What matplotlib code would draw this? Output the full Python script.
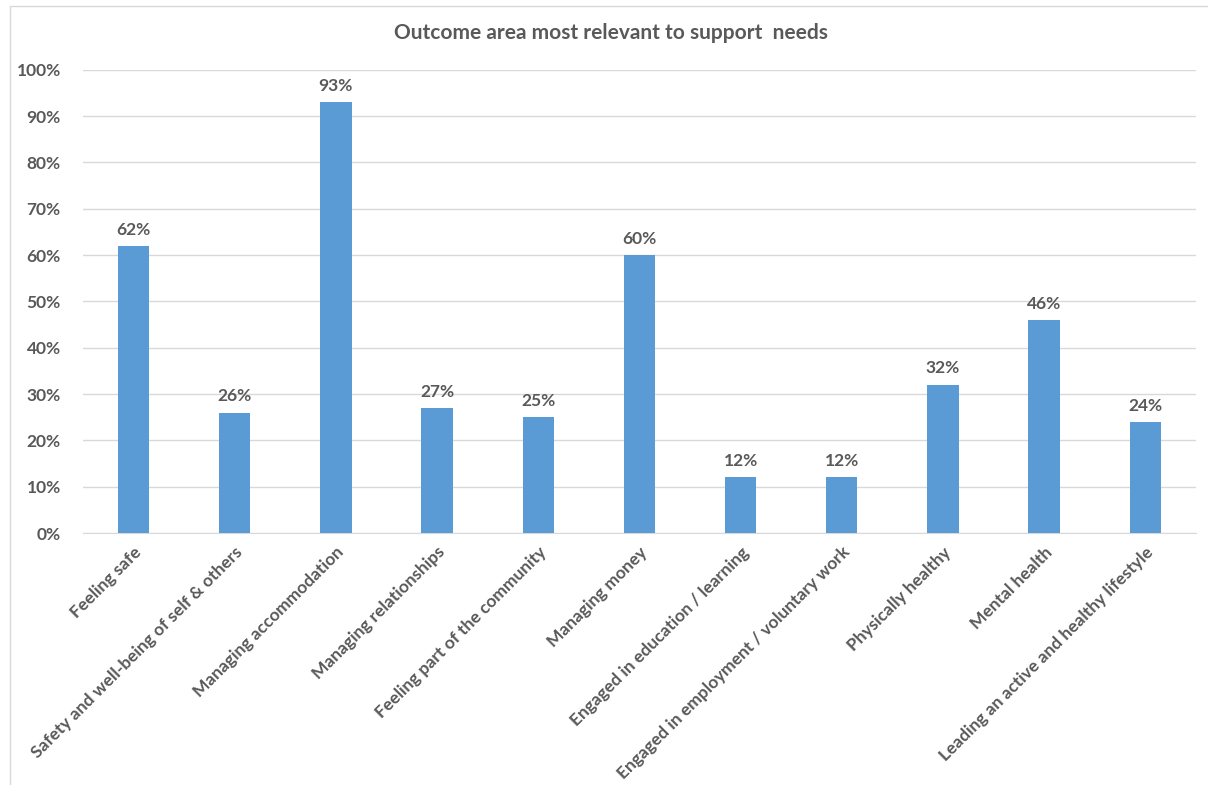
import matplotlib.pyplot as plt
import matplotlib.patches as patches
from matplotlib.ticker import FuncFormatter

categories = [
    "Feeling safe",
    "Safety and well-being of self & others",
    "Managing accommodation",
    "Managing relationships",
    "Feeling part of the community",
    "Managing money",
    "Engaged in education / learning",
    "Engaged in employment / voluntary work",
    "Physically healthy",
    "Mental health",
    "Leading an active and healthy lifestyle",
]
values = [62, 26, 93, 27, 25, 60, 12, 12, 32, 46, 24]
yticks = [0, 10, 20, 30, 40, 50, 60, 70, 80, 90, 100]

TEXT = "#595959"
BAR = "#5B9BD5"
GRID = "#D9D9D9"

plt.rcParams['font.family'] = ['Lato', 'DejaVu Sans']

fig = plt.figure(figsize=(12.08, 7.85), dpi=100)
ax = fig.add_axes([0.0687, 0.321, 0.9213, 0.590])

x = range(len(categories))
bars = ax.bar(x, values, width=0.31, color=BAR, zorder=3)
for xi, v in zip(x, values):
    ax.text(xi, v + 1.8, f"{v}%", ha='center', va='bottom', fontsize=12.5,
            fontweight='bold', color=TEXT)

ax.set_xlim(-0.5, len(categories) - 0.5)
ax.set_ylim(0, 100)
ax.set_yticks(yticks)
ax.yaxis.set_major_formatter(FuncFormatter(lambda v, p: f"{v:.0f}%"))
ax.set_xticks(list(x))
ax.set_xticklabels(categories, rotation=45, ha='right', rotation_mode='anchor')
for lab in ax.get_xticklabels() + ax.get_yticklabels():
    lab.set_fontsize(12.5)
    lab.set_fontweight('bold')
    lab.set_color(TEXT)

ax.grid(axis='y', color=GRID, linewidth=1, zorder=0)
for s in ['top', 'right', 'left']:
    ax.spines[s].set_visible(False)
ax.spines['bottom'].set_color(GRID)
ax.tick_params(axis='both', length=0)
ax.tick_params(axis='y', pad=16)
ax.tick_params(axis='x', pad=8)

fig.text(0.506, 0.958, "Outcome area most relevant to support  needs", ha='center',
         va='center', fontsize=15, fontweight='bold', color=TEXT)

# chart area border: only left and top edges fall inside the image
fig.patches.append(patches.Rectangle((10 / 1208, -0.01), 1.05, 1 - 6 / 785 + 0.01,
                                     transform=fig.transFigure, fill=False,
                                     edgecolor=GRID, linewidth=1))

fig.savefig("out.png", dpi=100)
